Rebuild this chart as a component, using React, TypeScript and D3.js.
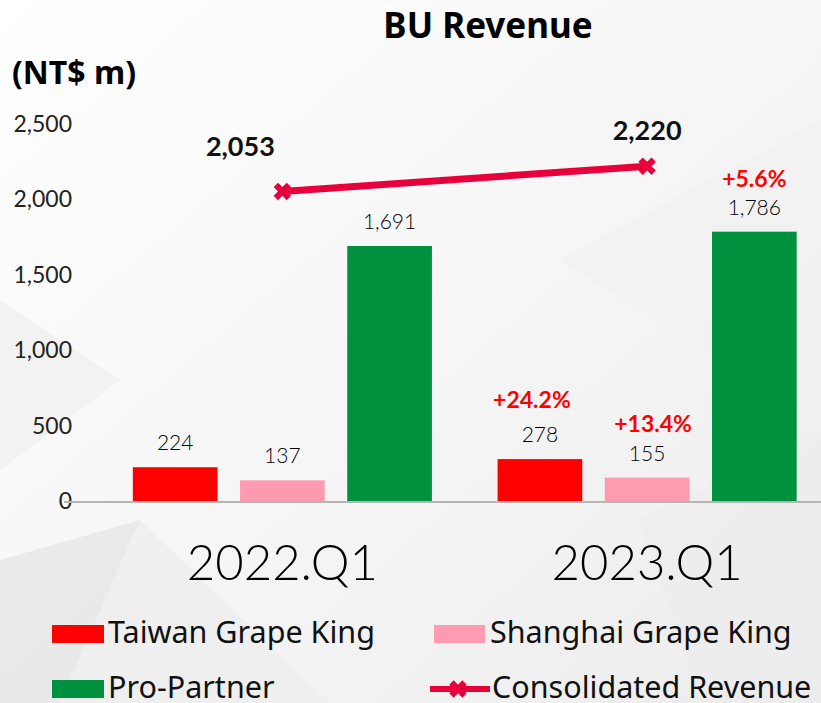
import * as d3 from 'd3'

const periods = ['2022.Q1', '2023.Q1']
const seriesNames = ['Taiwan Grape King', 'Shanghai Grape King', 'Pro-Partner']
const taiwan = [224, 278]
const shanghai = [137, 155]
const proPartner = [1691, 1786]
const consolidated = [2053, 2220]
const growth = [[null, null, null], ['+24.2%', '+13.4%', '+5.6%']]
const yTicks = [0, 500, 1000, 1500, 2000, 2500]

const COLORS = ['#ff0000', '#ff9bb0', '#00913f']
const LINE_COLOR = '#e8003d'
const W = 821
const H = 703
const THIN = 'Lato, "Open Sans", sans-serif'
const SANS = '"Noto Sans", "Open Sans", sans-serif'
// label nudges, per series / per point
const GROWTH_DX = [-8, 6, 0]
const GROWTH_DY = [-51, -46, -45]
const TOTAL_DX = [-42, 0]
const TOTAL_DY = [-35, -26]

export default function App() {
  const y = d3.scaleLinear().domain([0, 2500]).range([501, 124])
  const x0 = d3.scaleBand<string>().domain(periods).range([100, 829.5])
    .paddingInner(0.18).paddingOuter(0.09)
  const x1 = d3.scaleBand<string>().domain(seriesNames).range([0, x0.bandwidth()])
    .paddingInner(0.21)
  const values = [taiwan, shanghai, proPartner]
  const center = (p: string) => (x0(p) ?? 0) + x0.bandwidth() / 2
  const line = d3.line<number>().x((_, i) => center(periods[i])).y(d => y(d))
  const marker = d3.symbol(d3.symbolCross, 190)()
  const fmt = d3.format(',')

  return (
    <svg width={W} height={H} style={{ position: 'absolute', left: 0, top: 0 }}>
      <defs>
        <linearGradient id="bg" x1="0" y1="0" x2="1" y2="1">
          <stop offset="0" stopColor="#ffffff" />
          <stop offset="0.5" stopColor="#f6f6f6" />
          <stop offset="1" stopColor="#ececec" />
        </linearGradient>
      </defs>
      <rect width={W} height={H} fill="url(#bg)" />
      <polygon points="0,560 140,520 60,703 0,703" fill="#e4e4e4" opacity={0.7} />
      <polygon points="140,520 330,703 60,703" fill="#eeeeee" opacity={0.8} />
      <polygon points="0,300 120,380 0,470" fill="#f0f0f0" opacity={0.8} />
      <polygon points="560,260 821,120 821,420" fill="#f1f1f1" opacity={0.7} />
      <polygon points="640,520 821,430 821,703 700,703" fill="#ededed" opacity={0.7} />

      <text x={488} y={38} textAnchor="middle" fontFamily={SANS} fontWeight={700} fontSize={35}>BU Revenue</text>
      <text x={12} y={84} fontFamily={SANS} fontWeight={700} fontSize={32}>(NT$ m)</text>

      {yTicks.map(t => (
        <text key={t} x={72} y={y(t)} dy="0.35em" textAnchor="end" fontFamily={THIN} fontWeight={400} fontSize={23} fill="#222">
          {fmt(t)}
        </text>
      ))}

      {periods.map((p, pi) => (
        <g key={p} transform={`translate(${x0(p)},0)`}>
          {seriesNames.map((s, si) => {
            const v = values[si][pi]
            const bx = x1(s) ?? 0
            const cx = bx + x1.bandwidth() / 2
            const g = growth[pi][si]
            return (
              <g key={s}>
                <rect x={bx} y={y(v)} width={x1.bandwidth()} height={y(0) - y(v)} fill={COLORS[si]} />
                <text x={cx} y={y(v) - 17} textAnchor="middle" fontFamily={THIN} fontWeight={300} fontSize={21} fill="#000">
                  {fmt(v)}
                </text>
                {g && (
                  <text x={cx + GROWTH_DX[si]} y={y(v) + GROWTH_DY[si]} textAnchor="middle" fontFamily={THIN} fontWeight={700} fontSize={23} fill="#ff0000">
                    {g}
                  </text>
                )}
              </g>
            )
          })}
          <text x={x0.bandwidth() / 2} y={580} textAnchor="middle" fontFamily={THIN} fontWeight={300} fontSize={49} fill="#000">
            {p}
          </text>
        </g>
      ))}

      <line x1={64} x2={W} y1={y(0) + 1} y2={y(0) + 1} stroke="#b5b5b5" strokeWidth={2} />

      <path d={line(consolidated) ?? ''} fill="none" stroke={LINE_COLOR} strokeWidth={7} />
      {consolidated.map((v, i) => (
        <g key={i}>
          <path d={marker} transform={`translate(${center(periods[i])},${y(v)}) rotate(45)`} fill={LINE_COLOR} />
          <text x={center(periods[i]) + TOTAL_DX[i]} y={y(v) + TOTAL_DY[i]} textAnchor="middle" fontFamily={THIN} fontWeight={700} fontSize={27} fill="#111">
            {fmt(v)}
          </text>
        </g>
      ))}

      <g fontFamily={SANS} fontSize={30.5} fill="#111">
        <rect x={52} y={625} width={52} height={18} fill={COLORS[0]} />
        <text x={108} y={643}>{seriesNames[0]}</text>
        <rect x={434} y={625} width={51} height={18} fill={COLORS[1]} />
        <text x={490} y={643}>{seriesNames[1]}</text>
        <rect x={52} y={680} width={52} height={18} fill={COLORS[2]} />
        <text x={108} y={698}>{seriesNames[2]}</text>
        <line x1={430} x2={490} y1={689} y2={689} stroke={LINE_COLOR} strokeWidth={6} />
        <path d={marker} transform="translate(458,689) rotate(45)" fill={LINE_COLOR} />
        <text x={492} y={698}>Consolidated Revenue</text>
      </g>
    </svg>
  )
}
